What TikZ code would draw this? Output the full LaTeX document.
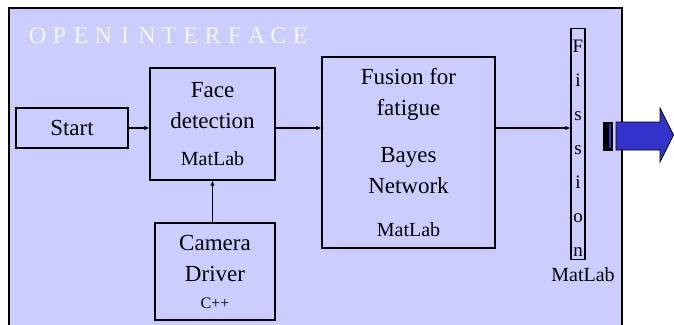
\documentclass[tikz,border=0pt]{standalone}
\usepackage{fontspec}
\setmainfont{Liberation Serif}
\usepackage{tikz}
\usetikzlibrary{arrows.meta,positioning}

\definecolor{panelfill}{RGB}{204,204,255}
\definecolor{fatblue}{RGB}{51,51,204}
\definecolor{titlewhite}{RGB}{246,246,252}

\tikzset{
  block/.style={draw, line width=1.2pt, align=center, inner sep=0pt,
    font=\fontsize{23}{31}\selectfont},
  small/.style={font=\fontsize{20}{20}\selectfont},
  link/.style={line width=1.2pt, -{Latex[length=5pt,width=4.5pt]}},
}

\begin{document}
\begin{tikzpicture}[x=1pt,y=-1pt]
    \useasboundingbox (0,0) rectangle (674,324);

    %Shape: Rectangle (panel)
    \draw [fill=panelfill, line width=1.2pt] (9,8) rectangle (622,340);

    % Title letters
    \foreach \l [count=\i] in {O,P,E,N,I,N,T,E,R,F,A,C,E} {
      \node [text=titlewhite, font=\fontsize{24}{24}\selectfont] (t\i) at ({15.6+21.9*\i},36) {\l};
    }

    %Shape: Rectangle (blocks)
    \node [block, minimum width=112pt, minimum height=40pt] (start) at (72,128) {Start};
    \node [block, minimum width=125pt, minimum height=112pt] (face) at (212.5,124)
      {Face\\detection\\[6pt]{\fontsize{20}{20}\selectfont MatLab}};
    \node [block, minimum width=120pt, minimum height=97pt] (camera) at (215,271.5)
      {Camera\\Driver\\[-4pt]{\fontsize{16}{20}\selectfont C++}};
    \node [block, minimum width=173pt, minimum height=191pt] (fusion) at (408.5,152.5)
      {Fusion for\\fatigue\\[16pt]Bayes\\Network\\[12pt]{\fontsize{20}{20}\selectfont MatLab}};
    \node [block, minimum width=14pt, minimum height=231pt,
      font=\fontsize{19}{34}\selectfont] (fission) at (578,144)
      {F\rule{0pt}{20pt}\\i\\s\\s\\i\\o\\n};
    \node [small, below=4pt of fission.south, xshift=5pt] (fisslab) {MatLab};

    %Straight Lines
    \draw [link] (start.east) -- (start.east -| face.west);
    \draw [link] (face.east |- start.east) -- (fusion.west |- start.east);
    \draw [link] (fusion.east |- start.east) -- (fission.west |- start.east);
    \draw [link] (camera.north -| face.center) -- (face.south);

    %Shape: big output arrow
    \coordinate (stub) at (603,122);
    \draw [fill=black] (stub) rectangle (612,150);
    \fill [fatblue] (609,124) rectangle (611,148);
    \draw [fill=fatblue, line width=0.8pt] (616,122) -- (660,122) -- (660,108) -- (673.5,135)
      -- (660,162) -- (660,150) -- (616,150) -- cycle;

\end{tikzpicture}
\end{document}
